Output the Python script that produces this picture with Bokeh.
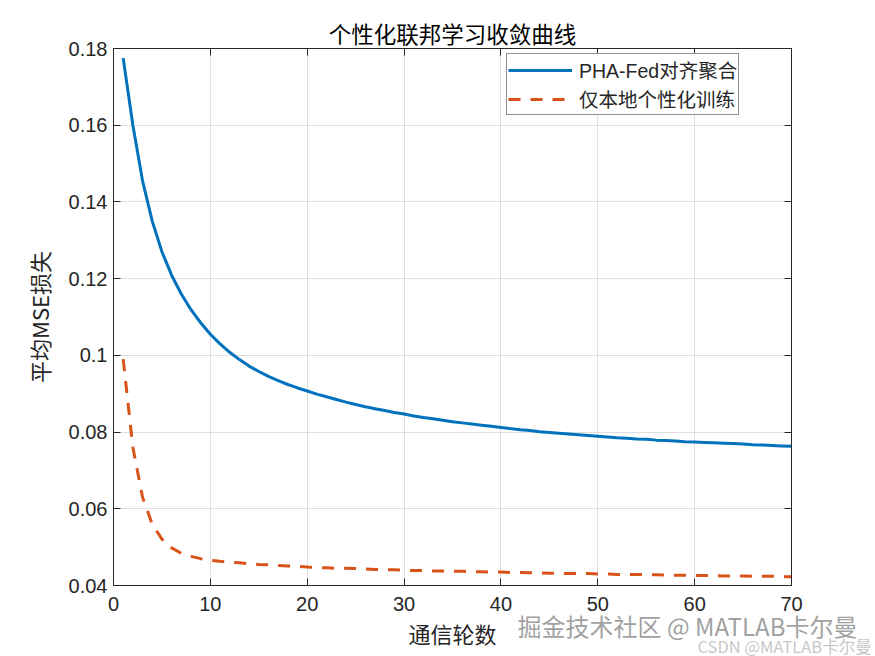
from bokeh.plotting import figure
from bokeh.models import (LinearAxis, FixedTicker, Range1d, CustomJSTickFormatter,
                          Label, Legend, LegendItem)
from bokeh.embed import file_html
from bokeh.resources import INLINE

rounds = list(range(1, 71))

pha_fed = [0.1775, 0.1600, 0.1455, 0.1350, 0.1270, 0.1209, 0.1160, 0.1119, 0.1085, 0.1055,
           0.1030, 0.1008, 0.0989, 0.0972, 0.0958, 0.0945, 0.0934, 0.0924, 0.0915, 0.0907,
           0.0899, 0.0892, 0.0885, 0.0878, 0.0872, 0.0866, 0.0861, 0.0856, 0.0851, 0.0847,
           0.0842, 0.0838, 0.0835, 0.0831, 0.0827, 0.0824, 0.0821, 0.0818, 0.0815, 0.0812,
           0.0809, 0.0806, 0.0804, 0.0801, 0.0799, 0.0797, 0.0795, 0.0793, 0.0791, 0.0789,
           0.0787, 0.0785, 0.0784, 0.0782, 0.0781, 0.0779, 0.0778, 0.0777, 0.0775, 0.0774,
           0.0773, 0.0772, 0.0771, 0.0770, 0.0769, 0.0767, 0.0766, 0.0765, 0.0764, 0.0763]

local_only = [0.0990, 0.0760, 0.0630, 0.0560, 0.0521, 0.0498, 0.0484, 0.0476, 0.0470, 0.0466,
              0.0463, 0.0461, 0.0459, 0.0457, 0.0455, 0.0454, 0.0452, 0.0451, 0.0450, 0.0448,
              0.0447, 0.0446, 0.0445, 0.0445, 0.0444, 0.0443, 0.0442, 0.0441, 0.0441, 0.0440,
              0.0439, 0.0439, 0.0438, 0.0438, 0.0437, 0.0437, 0.0436, 0.0436, 0.0435, 0.0435,
              0.0434, 0.0434, 0.0433, 0.0433, 0.0432, 0.0432, 0.0431, 0.0431, 0.0431, 0.0430,
              0.0430, 0.0429, 0.0429, 0.0429, 0.0428, 0.0428, 0.0427, 0.0427, 0.0427, 0.0426,
              0.0426, 0.0426, 0.0425, 0.0425, 0.0425, 0.0424, 0.0424, 0.0424, 0.0423, 0.0423]

x_ticks = [0, 10, 20, 30, 40, 50, 60, 70]
y_ticks = [0.04, 0.06, 0.08, 0.10, 0.12, 0.14, 0.16, 0.18]
x_min, x_max = 0, 70
y_min, y_max = 0.04, 0.18

title_text = "个性化联邦学习收敛曲线"
x_label = "通信轮数"
y_label = "平均MSE损失"
name_a = "PHA-Fed对齐聚合"
name_b = "仅本地个性化训练"
watermark_1 = "掘金技术社区 @ MATLAB卡尔曼"
watermark_2 = "CSDN @MATLAB卡尔曼"

CJK = "Noto Sans CJK SC"
MIX = "Liberation Sans, Noto Sans CJK SC"
AX = "#262626"

# The frame fills the whole canvas so that texts lying outside the axes box
# (tick labels, title, the page watermark) are not clipped; the box is bounded.
W, H = 875, 656
LEFT, TOP = 113, 48
BOX_R, BOX_B = 791, 585
x_start = x_min - (x_max - x_min) * LEFT / (BOX_R - LEFT)
x_end = x_max + (x_max - x_min) * (W - BOX_R) / (BOX_R - LEFT)
y_start = y_min - (y_max - y_min) * (H - BOX_B) / (BOX_B - TOP)
y_end = y_max + (y_max - y_min) * TOP / (BOX_B - TOP)

p = figure(width=W, height=H, output_backend="svg", toolbar_location=None,
           x_range=Range1d(x_start, x_end), y_range=Range1d(y_start, y_end),
           min_border_left=0, min_border_right=0, min_border_top=0, min_border_bottom=0)
p.outline_line_color = None
p.background_fill_color = "white"
p.border_fill_color = "white"

yfmt = CustomJSTickFormatter(code="return String(Math.round(tick*100)/100);")
blank = CustomJSTickFormatter(code="return '';")

def style_axis(ax):
    ax.axis_line_color = AX
    ax.axis_line_width = 1
    ax.major_tick_line_color = AX
    ax.major_tick_in = 7
    ax.major_tick_out = 0
    ax.minor_tick_line_color = None
    ax.major_label_text_font = "Liberation Sans"
    ax.major_label_text_font_size = "20px"
    ax.major_label_text_color = AX
    ax.axis_label_text_font = CJK
    ax.axis_label_text_font_size = "22px"
    ax.axis_label_text_font_style = "normal"
    ax.axis_label_text_color = AX

for ax in p.xaxis:
    ax.ticker = FixedTicker(ticks=x_ticks)
    ax.fixed_location = y_min
    ax.bounds = (x_min, x_max)
    ax.axis_label = x_label
    style_axis(ax)
    ax.major_label_standoff = 11
    ax.axis_label_standoff = 3
for ax in p.yaxis:
    ax.ticker = FixedTicker(ticks=y_ticks)
    ax.formatter = yfmt
    ax.fixed_location = x_min
    ax.bounds = (y_min, y_max)
    ax.axis_label = y_label
    style_axis(ax)
    ax.major_label_standoff = 6
    ax.axis_label_standoff = 11

top_ax = LinearAxis(ticker=FixedTicker(ticks=x_ticks), formatter=blank, bounds=(x_min, x_max),
                    fixed_location=y_max)
right_ax = LinearAxis(ticker=FixedTicker(ticks=y_ticks), formatter=blank, bounds=(y_min, y_max),
                      fixed_location=x_max)
style_axis(top_ax)
style_axis(right_ax)
p.add_layout(top_ax, "above")
p.add_layout(right_ax, "right")

p.xgrid.ticker = FixedTicker(ticks=x_ticks)
p.ygrid.ticker = FixedTicker(ticks=y_ticks)
p.xgrid.cross_bounds = (y_min, y_max)
p.ygrid.cross_bounds = (x_min, x_max)
p.grid.grid_line_color = "#dfdfdf"
p.grid.grid_line_width = 1

r1 = p.line(rounds, pha_fed, line_color="#0072BD", line_width=3)
r2 = p.line(rounds, local_only, line_color="#D95319", line_width=3, line_dash="12 10")

legend = Legend(items=[LegendItem(label=name_a, renderers=[r1]),
                       LegendItem(label=name_b, renderers=[r2])],
                location=(506, 541))
legend.label_text_font = MIX
legend.label_text_font_size = "19.5px"
legend.label_text_color = AX
legend.glyph_width = 64
legend.glyph_height = 20
legend.label_height = 20
legend.spacing = 0
legend.padding = 1
legend.margin = 0
legend.label_standoff = 7
legend.border_line_color = AX
legend.border_line_width = 1
legend.background_fill_alpha = 1
p.add_layout(legend, "center")

title_lbl = Label(x=(LEFT + BOX_R) / 2, y=H - 32, x_units="screen", y_units="screen",
                  text=title_text, text_font=CJK, text_font_size="22.5px", text_color="black",
                  text_align="center", text_baseline="middle")
p.add_layout(title_lbl)

wm1 = Label(x=517, y=31, x_units="screen", y_units="screen", text=watermark_1,
            text_font=CJK, text_font_size="24px", text_color="#8f8f8f", text_alpha=0.85,
            text_baseline="middle")
wm2 = Label(x=697, y=11, x_units="screen", y_units="screen", text=watermark_2,
            text_font=CJK, text_font_size="16.5px", text_color="#bdbdbd", text_alpha=0.85,
            text_baseline="middle")
p.add_layout(wm1)
p.add_layout(wm2)

open("out.html", "w").write(file_html(p, INLINE))
